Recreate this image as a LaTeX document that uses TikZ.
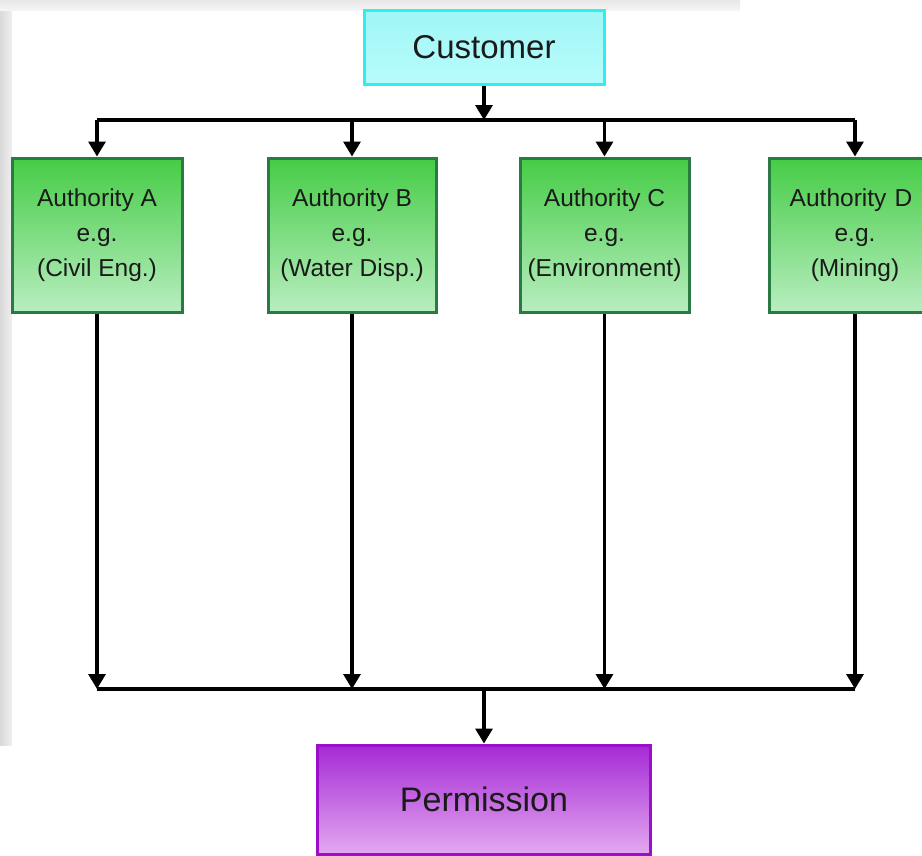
\documentclass[tikz,border=0pt]{standalone}
\usepackage{fontspec}
\setmainfont{Liberation Sans}
\usetikzlibrary{arrows.meta}
\definecolor{gtop}{HTML}{46CC46}
\definecolor{gbot}{HTML}{B8EEC0}
\definecolor{gborder}{HTML}{2A7A44}
\definecolor{ctop}{HTML}{A0F6F6}
\definecolor{cbot}{HTML}{B8FCFC}
\definecolor{cborder}{HTML}{30EEEE}
\definecolor{ptop}{HTML}{A52AD5}
\definecolor{pbot}{HTML}{E4A8F0}
\definecolor{pborder}{HTML}{9A10C8}
\definecolor{txt}{HTML}{1A1A1A}
\tikzset{
  authbox/.style={draw=gborder, line width=3pt, top color=gtop, bottom color=gbot,
    minimum height=154pt, inner sep=0pt, align=center, text=txt,
    font=\fontsize{24.5}{35}\selectfont},
  custbox/.style={draw=cborder, line width=3pt, top color=ctop, bottom color=cbot,
    minimum width=240pt, minimum height=74pt, inner sep=0pt, text=txt,
    font=\fontsize{33}{36}\selectfont},
  permbox/.style={draw=pborder, line width=3pt, top color=ptop, bottom color=pbot,
    minimum width=333pt, minimum height=109pt, inner sep=0pt, text=txt,
    font=\fontsize{34}{36}\selectfont},
  conn/.style={line width=3.3pt, black},
  arr/.style={conn, -{Triangle[length=15pt,width=17pt]}}
}
\begin{document}
\begin{tikzpicture}[x=1pt,y=-1pt]
\useasboundingbox (0,0) rectangle (922,855);
\clip (0,0) rectangle (922,855);
% background fringes
\fill[white] (0,0) rectangle (922,855);
\shade[left color=gray!30, right color=gray!12] (0,0) rectangle (12,745);
\shade[top color=gray!18, bottom color=gray!8] (0,0) rectangle (740,10);
% nodes
\node[custbox] (cust) at (484,47.5) {Customer};
\node[authbox, minimum width=170pt] (A) at (97,235) {Authority A\\e.g.\\(Civil Eng.)};
\node[authbox, minimum width=168pt] (B) at (352,235) {Authority B\\e.g.\\(Water Disp.)};
\node[authbox, minimum width=169pt] (C) at (604.5,235) {Authority C\\e.g.\\(Environment)};
\node[authbox, minimum width=172pt, text width=172pt] (D) at (855,235) {\hspace*{-8pt}Authority D\\e.g.\\(Mining)};
\node[permbox] (perm) at (484,799.5) {Permission};
\coordinate (top) at (484,120);
\coordinate (bot) at (484,689);
% top distribution
\draw[arr] (cust.south) -- (top);
\draw[conn] (A.north |- top) -- (D.north |- top);
\foreach \n in {A,B,C,D} \draw[arr] (\n.north |- top) -- (\n.north);
% bottom collection
\foreach \n in {A,B,C,D} \draw[arr] (\n.south) -- (\n.south |- bot);
\draw[conn] (A.south |- bot) -- (D.south |- bot);
\draw[arr] (bot) -- (perm.north);
\end{tikzpicture}
\end{document}
